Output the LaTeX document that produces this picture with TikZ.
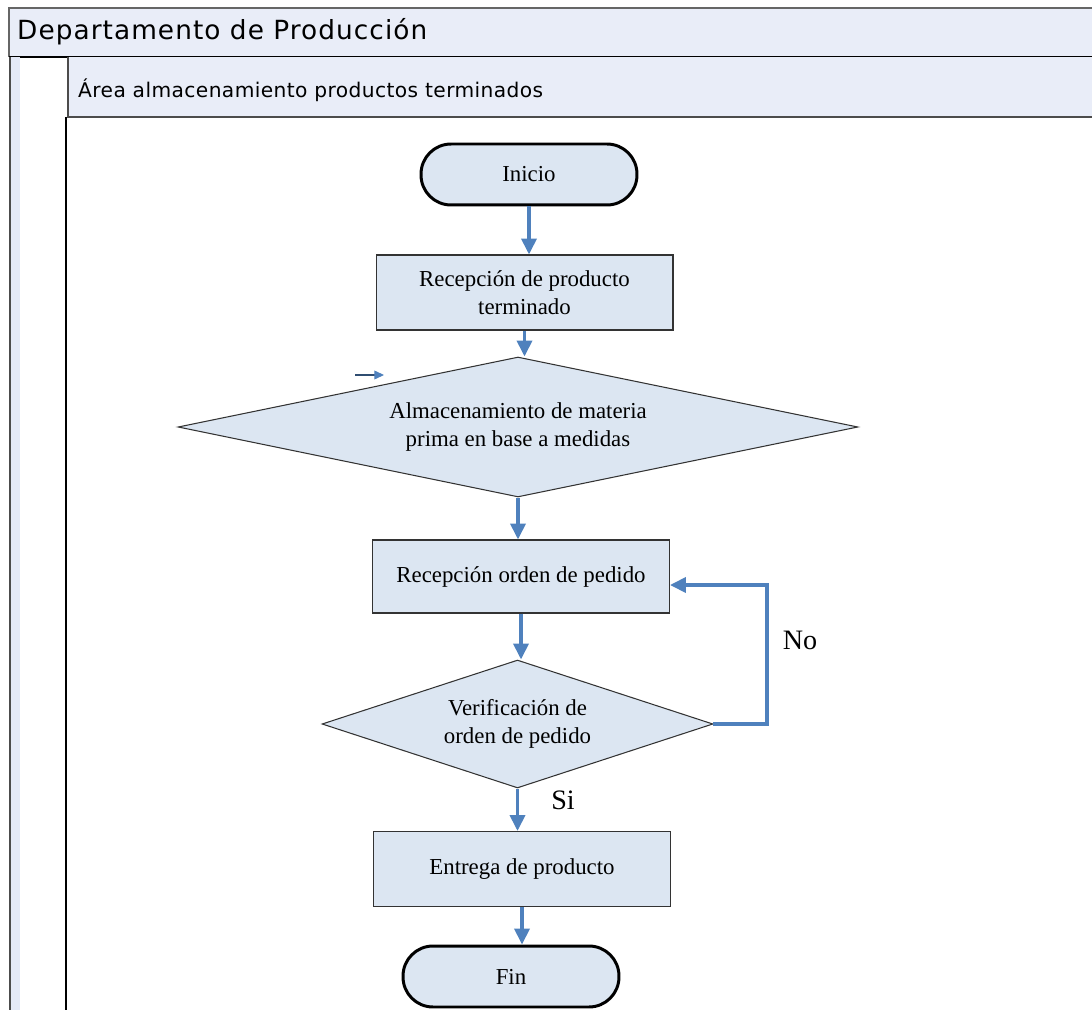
\documentclass[tikz,border=0pt]{standalone}
\usepackage{fontspec}
\setmainfont{Liberation Serif}
\newfontfamily\lanefont[LetterSpace=4]{DejaVu Sans}
\newfontfamily\subfont[LetterSpace=2]{DejaVu Sans}
\usetikzlibrary{shapes.geometric, arrows.meta, positioning, calc}
\definecolor{laneFill}{RGB}{233,237,248}
\definecolor{nodeFill}{RGB}{220,230,242}
\definecolor{flowBlue}{RGB}{79,129,189}
\definecolor{stripBlue}{RGB}{228,233,247}

\begin{document}
\begin{tikzpicture}[x=0.02cm, y=-0.02cm,
  txt/.style={font=\fontsize{13}{16}\selectfont, align=center},
  terminal/.style={txt, draw=black, line width=1.7pt, fill=nodeFill, minimum width=4.32cm, minimum height=1.22cm, rounded corners=0.6cm},
  process/.style={txt, draw=black!80, line width=0.6pt, fill=nodeFill, minimum width=5.94cm, minimum height=1.5cm},
  decision/.style={txt, draw=black!80, line width=0.6pt, fill=nodeFill, diamond, inner sep=0pt},
  flow/.style={draw=flowBlue, line width=2pt, -{Triangle[width=8.5pt,length=9pt]}},
  lbl/.style={font=\fontsize{16}{19}\selectfont}]
\useasboundingbox (0,0) rectangle (1092,1010);
\fill[laneFill] (9,8) rectangle (1092,57);
\draw[black!60, line width=0.6pt] (9,57) -- (9,8) -- (1092,8);
\draw[black, line width=1.2pt] (9,57) -- (1092,57);
\node[anchor=west, font=\lanefont\fontsize{15}{18}\selectfont] (dept) at (11,32) {Departamento de Producción};
\fill[stripBlue] (10,57) rectangle (20,1010);
\draw[black!70, line width=0.8pt] (10,57) -- (10,1010);
\fill[laneFill] (68,57) rectangle (1092,117);
\draw[black!70, line width=0.6pt] (1092,117) -- (68,117) -- (68,57);
\draw[black, line width=0.6pt] (66,117) -- (66,1010);
\node[anchor=west, font=\subfont\fontsize{11.5}{14}\selectfont] (area) at (72,90) {Área almacenamiento productos terminados};

\node[terminal] (inicio) at (529,174.5) {Inicio};
\node[process] (recep) at (524.5,292.5) {Recepción de producto\\terminado};
\node[decision, minimum width=13.6cm, minimum height=2.8cm, aspect=4.86] (almac) at (518,427) {Almacenamiento de materia\\prima en base a medidas};
\node[process, minimum height=1.46cm] (orden) at (521,576.5) {Recepción orden de pedido};
\node[decision, minimum width=7.82cm, minimum height=2.56cm, aspect=3.05] (verif) at (517.5,724) {Verificación de\\orden de pedido};
\node[process] (entrega) at (522,869) {Entrega de producto};
\node[terminal] (fin) at (511,976.5) {Fin};
\node[lbl] (no) at (800,640) {No};
\node[lbl] (si) at (563,800) {Si};

\coordinate (stray1) at (355,375);
\coordinate (stray2) at (384,375);
\coordinate (loopc) at (767,585);

\draw[flow] (inicio.south) -- (inicio.south |- recep.north);
\draw[flow] (recep.south) -- (recep.south |- almac.north);
\draw[flow] (almac.south) -- (almac.south |- orden.north);
\draw[flow] (orden.south) -- (orden.south |- verif.north);
\draw[flow] (verif.south) -- (verif.south |- entrega.north);
\draw[flow] (entrega.south) -- (entrega.south |- fin.north);
\draw[flow] (verif.east) -| (loopc) -- (orden.east |- loopc);
\draw[draw=flowBlue!60!black, line width=0.6pt, -{Triangle[width=5pt,length=5.5pt,color=flowBlue]}] (stray1) -- (stray2);
\end{tikzpicture}
\end{document}
